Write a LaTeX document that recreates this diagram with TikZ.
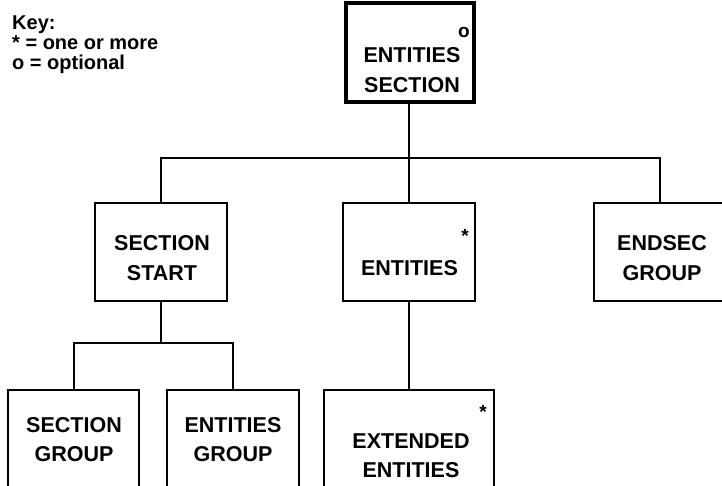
\documentclass[tikz,border=0pt]{standalone}
\usepackage{fontspec}
\setmainfont{Liberation Sans}
\begin{document}
\begin{tikzpicture}[x=1pt,y=-1pt,
  box/.style={draw=black, line width=2pt, minimum width=#1, minimum height=98pt, inner sep=0pt},
  box/.default=132pt,
  rootbox/.style={draw=black, line width=4pt, minimum width=128pt, minimum height=99pt, inner sep=0pt},
  wire/.style={draw=black, line width=2pt},
  lbl/.style={font=\fontsize{21.5}{26}\selectfont\bfseries, anchor=base, inner sep=0pt},
  flag/.style={font=\fontsize{19}{22}\selectfont\bfseries, anchor=base, inner sep=0pt},
  keytxt/.style={font=\fontsize{20}{22}\selectfont\bfseries, anchor=base west, inner sep=0pt}]

\useasboundingbox (0,0) rectangle (722,486);
\clip (0,0) rectangle (722,486);

% key
\node[keytxt] (k1) at (12,30) {Key:};
\node[keytxt] (k2) at (12,50) {* = one or more};
\node[keytxt] (k3) at (12,70) {o = optional};

% boxes
\node[rootbox] (root) at (410,52.5) {};
\node[box] (ss)  at (161,252) {};
\node[box] (ent) at (409,252) {};
\node[box] (es)  at (660,252) {};
\node[box=131pt] (sg)  at (73.5,439) {};
\node[box] (eg)  at (233,439) {};
\node[box=170pt] (ext) at (409,439) {};

% labels
\node[flag] (rootf) at (464,38) {o};
\node[lbl] (root1) at (412,63) {ENTITIES};
\node[lbl] (root2) at (412,93) {SECTION};

\node[lbl] (ss1) at (162,251) {SECTION};
\node[lbl] (ss2) at (162,280) {START};

\node[flag] (entf) at (465,243) {*};
\node[lbl] (ent1) at (409.5,275) {ENTITIES};

\node[lbl] (es1) at (662,251) {ENDSEC};
\node[lbl] (es2) at (662,280) {GROUP};

\node[lbl] (sg1) at (74,432) {SECTION};
\node[lbl] (sg2) at (74,461) {GROUP};

\node[lbl] (eg1) at (233,432) {ENTITIES};
\node[lbl] (eg2) at (233,461) {GROUP};

\node[flag] (extf) at (483,418) {*};
\node[lbl] (ext1) at (411,448) {EXTENDED};
\node[lbl] (ext2) at (411,477) {ENTITIES};

% connectors
\coordinate (bus1) at (0,158);
\coordinate (bus2) at (0,343);
\draw[wire] (ent.north |- root.south) -- (ent.north);
\draw[wire] (ent.north |- bus1) -| (ss.north);
\draw[wire] (ent.north |- bus1) -| (es.north);
\draw[wire] (ss.south) -- (ss.south |- bus2) -| (sg.north);
\draw[wire] (ss.south |- bus2) -| (eg.north);
\draw[wire] (ent.south) -- (ext.north);
\end{tikzpicture}
\end{document}
